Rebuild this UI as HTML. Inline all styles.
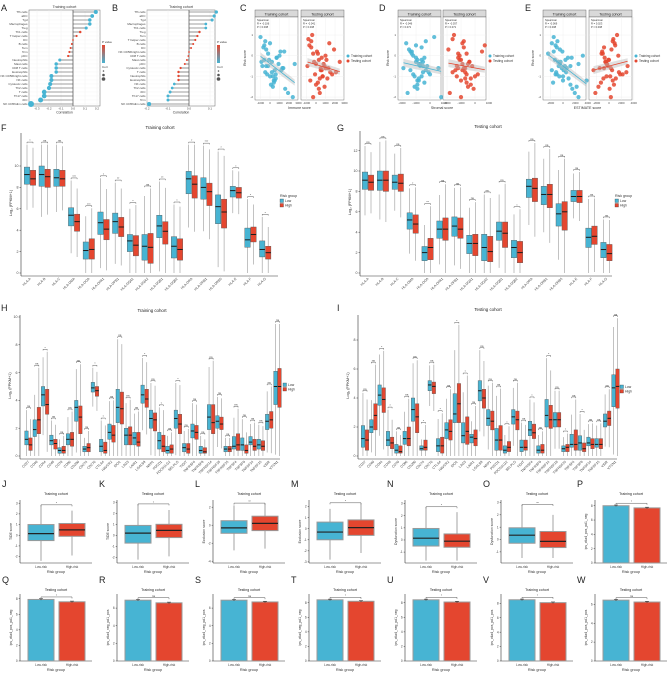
<!DOCTYPE html>
<html><head><meta charset="utf-8"><style>
html,body{margin:0;padding:0;background:#fff;}
svg{display:block;font-family:"Liberation Sans",sans-serif;}
</style></head><body>
<svg id="fig" width="669" height="674" viewBox="0 0 669 674" xmlns="http://www.w3.org/2000/svg"></svg>
<script>
// ---------- DATA ----------
const aLabels=["Tfh cells","aDC","Tgd","Macrophages","Treg","Th1 cells","T helper cells","DC","B cells","Tem","Tcm","pDC","Neutrophils","Mast cells","CD8 T cells","Eosinophils","NK CD56bright cells","NK cells","Cytotoxic cells","Th2 cells","T cells","Th17 cells","iDC","NK CD56dim cells"];
const aValues=[0.19,0.16,0.14,0.14,0.11,0.06,0.03,0.0,-0.01,-0.02,-0.03,-0.04,-0.11,-0.14,-0.14,-0.14,-0.18,-0.18,-0.19,-0.20,-0.24,-0.24,-0.27,-0.35];
const aTicks=[-0.3,-0.2,-0.1,0.0,0.1,0.2];
const bLabels=["Tfh cells","aDC","Tgd","Macrophages","Th1 cells","Treg","Tem","T helper cells","B cells","DC","NK CD56bright cells","CD8 T cells","Mast cells","pDC","Cytotoxic cells","T cells","Neutrophils","Eosinophils","NK cells","Th2 cells","iDC","Th17 cells","Tcm","NK CD56dim cells"];
const bValues=[0.13,0.12,0.11,0.08,0.08,0.05,0.04,0.03,0.02,0.01,0.0,-0.003,-0.01,-0.02,-0.04,-0.05,-0.05,-0.05,-0.07,-0.08,-0.09,-0.10,-0.10,-0.19];
const bTicks=[-0.2,-0.1,0.0,0.1];

const riskTrain=[-0.3,-0.8,0.2,-1.2,-0.5,0.6,-1.6,-0.1,-0.9,0.9,-0.4,-1.0,-0.2,0.3,-0.7,-1.4,-0.6,0.1,-1.1,-0.3,0.5,-0.8,-1.8,-0.5,0.0,-1.3,-0.2,-0.6,0.4,-0.9,-1.5,-0.4,0.7,-0.7,-1.0,-0.1,-2.0,-0.5,0.2,-1.2];
const riskTest=[-0.6,0.1,-1.1,-0.4,0.8,-1.5,-0.2,-0.9,0.4,-0.7,-1.3,0.0,-0.5,-1.8,0.6,-0.3,-1.0,-0.8,0.2,-1.2,-0.4,1.0,-0.6,-1.6,-0.1,-0.9,0.3,-0.7,-1.4,-0.2,0.5,-1.1,-0.5,-0.3,-2.0,0.1,-0.8,-1.0,0.7,-0.6];
const immuneTrain=[0.2,-0.5,1.1,0.4,-0.8,0.0,1.6,0.7,-0.3,-1.0,0.9,0.3,-0.6,-0.4,0.5,0.1,1.3,-0.2,0.6,-0.9,-0.6,0.2,1.9,-0.4,1.0,0.4,-0.1,1.4,-0.7,0.6,0.3,2.6,-0.5,1.2,0.0,0.7,2.4,-0.2,1.5,0.5];
const immuneTest=[0.5,-0.3,1.2,0.0,-0.8,0.9,0.3,1.7,-0.5,0.6,0.2,1.0,-0.9,0.4,1.4,-0.2,0.7,2.1,0.1,-0.6,0.8,-0.4,1.3,0.3,0.6,-0.1,1.9,0.5,0.0,1.1,-0.7,0.4,0.9,2.5,-0.3,0.2,1.5,0.7,-0.5,1.0];
const stromalTrain=[-1.0,-0.5,-1.4,-0.8,-0.2,-1.7,-0.9,-0.4,-1.2,0.3,-0.7,-1.1,-0.6,-1.5,-0.3,-0.9,0.6,-1.3,-0.8,-0.5,-1.0,-0.1,-1.6,-0.7,-1.2,-0.4,-0.9,-1.9,-0.6,0.0,-1.1,-0.8,-0.3,-1.4,-0.6,-1.0,0.8,-0.5,-1.3,-0.9];
const stromalTest=[-0.7,-1.2,-0.3,-0.9,-1.6,-0.5,-1.0,0.2,-0.8,-1.4,-0.6,-1.1,-0.2,-1.8,-0.9,-0.4,-1.3,-0.7,0.5,-1.0,-0.5,-1.5,-0.8,-0.1,-1.2,-0.6,-1.9,-0.9,-0.3,-1.1,0.7,-0.7,-1.3,-0.4,-1.0,-0.6,-1.6,0.0,-0.8,-1.2];
const estimateTrain=[-0.8,0.5,-1.5,0.0,1.2,-1.8,1.5,0.8,-1.0,-1.5,2.5,-0.6,-1.3,-0.5,0.1,1.2,0.6,-2.4,0.9,-0.4,-1.2,-1.1,1.9,-0.7,3.2,-1.6,0.4,-0.2,-1.0,-1.2,2.2,-0.5,-0.9,-1.8,0.0,1.4,2.5,0.3,-0.1,3.8];
const estimateTest=[0.3,-1.0,1.1,-0.4,0.7,-1.7,0.0,2.2,-0.8,0.5,-1.3,1.5,-0.2,-2.2,0.9,-0.6,0.2,2.8,-1.1,0.6,-0.3,1.3,-1.5,0.1,-0.7,1.8,0.4,-2.5,0.8,-0.1,1.0,-0.9,3.0,-0.5,0.3,-1.2,1.6,-0.4,0.6,-0.8];

const hlaGenes=["HLA-A","HLA-B","HLA-C","HLA-DMA","HLA-DOA","HLA-DPA1","HLA-DPB1","HLA-DQA1","HLA-DQA2","HLA-DQB1","HLA-DQB2","HLA-DRA","HLA-DRB1","HLA-DRB5","HLA-E","HLA-F","HLA-G"];
const fLow=[[8.3,9.2,9.9],[8.1,9.2,10.0],[8.1,8.9,9.7],[4.4,5.4,6.1],[1.3,2.1,2.9],[3.6,4.7,5.7],[3.7,4.8,5.6],[2.0,3.0,3.6],[1.2,2.5,3.6],[3.3,4.4,5.4],[1.4,2.5,3.4],[7.4,8.8,9.5],[6.9,8.0,8.9],[4.6,6.2,7.3],[7.1,7.7,8.1],[2.4,3.1,4.2],[1.5,2.2,3.0]];
const fHigh=[[8.2,8.8,9.6],[8.0,9.0,9.7],[8.1,8.8,9.6],[3.9,4.8,5.5],[1.3,2.2,3.2],[3.1,4.1,5.0],[3.4,4.3,5.2],[1.6,2.6,3.5],[0.9,2.4,3.7],[2.7,3.9,4.8],[1.2,2.2,3.2],[7.0,8.3,9.1],[6.3,7.6,8.4],[4.2,5.7,6.9],[7.0,7.5,8.0],[2.9,3.6,4.3],[1.3,1.9,2.5]];
const fSig=["*","ns","ns","***","***","*","**","*","ns","**","*","*","***","*","*","*","*"];
const gLow=[[8.2,9.1,9.9],[8.1,9.1,10.0],[8.2,8.9,9.6],[4.3,5.2,5.9],[1.2,2.0,2.6],[3.4,4.3,5.1],[3.6,4.6,5.5],[1.9,2.9,3.7],[1.2,2.5,3.8],[3.2,4.1,5.0],[1.5,2.5,3.2],[7.4,8.5,9.2],[6.7,7.7,8.5],[4.6,5.8,6.8],[7.0,7.5,8.1],[2.5,3.5,4.4],[1.5,2.3,3.0]];
const gHigh=[[8.1,8.9,9.6],[8.0,9.1,10.0],[8.0,8.8,9.7],[3.9,4.8,5.7],[1.3,2.5,3.4],[3.2,4.3,5.4],[3.4,4.3,5.4],[1.7,2.9,3.8],[1.1,2.1,3.6],[2.5,3.9,5.0],[1.0,2.0,3.1],[7.0,8.3,9.3],[6.4,7.7,8.7],[4.2,6.0,7.0],[6.9,7.5,8.1],[2.8,3.6,4.6],[1.2,1.9,2.8]];
const gSig=["ns","ns","ns","*","**","ns","ns","ns","ns","ns","*","ns","ns","ns","ns","ns","ns"];

const icGenes=["CD27","CD40","CD44","CD48","CD70","CD86","CD200","CD274","CD276","CTLA4","HAVCR2","IDO1","LAG3","LAIR1","LGALS9","NRP1","PDCD1","PDCD1LG2","SELPLG","TIGIT","TNFRSF4","TNFRSF9","TNFRSF14","TNFRSF18","TNFRSF25","TNFSF4","TNFSF9","TNFSF14","TNFSF15","VSIR","VTCN1"];
const hLow=[[0.8,1.2,1.8],[1.4,1.9,2.6],[3.6,4.4,5.0],[0.8,1.1,1.5],[0.2,0.4,0.6],[0.8,1.2,1.6],[2.5,3.5,4.0],[0.3,0.5,0.7],[4.6,4.9,5.3],[0.3,0.7,1.2],[1.2,1.7,2.3],[2.4,3.5,4.8],[0.8,1.5,2.0],[0.8,1.3,1.7],[3.8,4.4,5.1],[2.0,2.7,3.3],[0.5,1.1,1.7],[0.2,0.4,0.7],[2.0,2.7,3.3],[0.3,0.6,0.9],[1.3,1.8,2.3],[0.2,0.4,0.7],[1.9,2.8,3.7],[2.0,2.5,2.9],[0.3,0.5,0.7],[0.5,0.7,1.4],[0.4,0.8,1.3],[0.8,1.0,1.4],[0.5,0.8,1.2],[1.9,2.5,3.0],[3.7,5.0,6.1]];
const hHigh=[[0.4,0.8,1.3],[1.6,2.6,3.5],[3.0,3.7,4.8],[0.5,0.9,1.2],[0.2,0.4,0.7],[0.7,1.2,1.7],[1.6,2.8,3.6],[0.3,0.6,0.9],[4.3,4.7,5.0],[0.2,0.4,1.0],[1.0,1.5,2.2],[2.3,3.4,4.6],[0.8,1.5,2.1],[0.7,1.0,1.7],[3.5,4.1,4.8],[1.8,2.6,3.1],[0.3,0.7,1.5],[0.2,0.5,0.8],[1.6,2.3,3.0],[0.2,0.5,0.9],[1.2,1.7,2.2],[0.2,0.3,0.6],[1.6,2.4,3.7],[1.9,2.3,2.8],[0.3,0.5,0.7],[0.4,0.8,1.6],[0.2,0.4,0.8],[0.4,0.7,1.2],[0.4,0.7,1.1],[2.0,2.6,3.2],[3.5,5.0,6.3]];
const hSig=["ns","ns","*","ns","ns","ns","ns","ns","*","*","ns","ns","ns","ns","*","ns","*","ns","*","ns","ns","ns","ns","ns","ns","ns","ns","ns","ns","ns","ns"];
const iLow=[[0.6,1.2,2.1],[1.6,2.0,2.5],[3.5,4.2,4.9],[0.7,1.1,1.7],[0.2,0.4,0.8],[0.8,1.2,1.7],[2.4,3.2,4.0],[0.4,0.5,0.7],[4.5,4.9,5.2],[0.3,0.7,1.2],[1.2,1.8,2.3],[2.3,2.9,4.3],[0.9,1.4,2.3],[0.9,1.3,1.5],[3.8,4.5,5.2],[2.1,2.6,3.2],[0.4,1.1,1.9],[0.2,0.4,0.7],[2.2,2.7,3.2],[0.3,0.6,1.1],[1.4,1.8,2.4],[0.2,0.4,0.7],[2.0,2.8,3.9],[2.0,2.5,3.0],[0.3,0.5,0.7],[0.6,0.8,1.5],[0.4,0.9,1.4],[0.7,0.9,1.3],[0.6,0.8,1.2],[2.0,2.4,2.9],[3.4,4.7,5.6]];
const iHigh=[[0.4,1.1,1.8],[1.8,2.8,3.6],[3.0,3.9,4.7],[0.5,0.9,1.3],[0.2,0.3,0.7],[0.7,1.2,2.0],[1.6,2.7,3.6],[0.4,0.6,1.1],[4.3,4.8,5.1],[0.2,0.7,1.3],[1.1,1.7,2.5],[2.3,3.6,5.0],[0.8,1.7,2.7],[0.7,1.2,1.8],[3.3,4.0,4.6],[1.8,2.4,3.1],[0.4,1.1,2.1],[0.3,0.6,1.0],[1.8,2.5,3.1],[0.4,0.6,1.1],[1.2,1.6,2.2],[0.2,0.4,0.8],[1.9,2.5,3.5],[2.0,2.5,3.0],[0.3,0.6,0.8],[0.4,0.8,1.8],[0.3,0.5,0.9],[0.5,0.8,1.2],[0.5,0.8,1.2],[2.1,2.6,3.1],[3.3,4.8,6.0]];
const iSig=["ns","ns","*","*","ns","ns","ns","*","ns","*","ns","*","*","ns","ns","ns","ns","*","ns","ns","*","ns","*","ns","*","ns","*","ns","ns","ns","ns"];

// small panels: [min, q1, median, q3, max] for low / high risk
const jLow=[-2.4,-0.5,0.15,1.0,2.8], jHigh=[-1.9,-0.1,0.5,1.1,2.3];
const kLow=[-2.2,-0.7,0.2,0.9,2.8], kHigh=[-1.9,-0.2,0.45,1.0,2.3];
const lLow=[-2.8,-0.9,-0.3,0.5,2.2], lHigh=[-2.6,-0.6,0.2,1.0,2.4];
const mLow=[-2.8,-1.0,-0.3,0.6,1.8], mHigh=[-2.2,-0.6,0.1,0.8,2.3];
const nLow=[-1.7,-0.5,0.15,0.95,2.7], nHigh=[-1.7,-0.6,-0.1,0.5,2.3];
const oLow=[-1.5,-0.3,0.35,0.95,2.8], oHigh=[-1.5,-0.65,-0.15,0.65,2.0];
const barValues=[[8.0,7.7],[7.9,7.6],[6.9,6.6],[6.9,6.7],[8.4,8.2],[8.4,8.1],[8.5,8.1],[6.45,6.25]];
const barSig=["*","*","ns","ns","*","*","*","ns"];

// ---------- HELPERS ----------
const NS="http://www.w3.org/2000/svg";
const svg=document.getElementById('fig');
const CY="#47b4d3", RD="#e4462f";
function mk(tag,attrs,parent){const e=document.createElementNS(NS,tag);for(const k in attrs)e.setAttribute(k,attrs[k]);(parent||svg).appendChild(e);return e;}
function nm(e,name){
  
  
  return e;}
function txt(x,y,s,size,anchor,rot,fill,name,weight){const t=mk('text',{x:x,y:y,'font-size':size,'text-anchor':anchor||'start',fill:fill||'#333'});if(weight)t.setAttribute('font-weight',weight);if(rot)t.setAttribute('transform','rotate('+rot+' '+x+' '+y+')');t.textContent=s;nm(t,name||'label');return t;}
function line(x1,y1,x2,y2,st,w,name){const l=mk('line',{x1:x1,y1:y1,x2:x2,y2:y2,stroke:st||'#333','stroke-width':w||0.5});nm(l,name||'axis-line');return l;}
function panelLetter(x,y,s){txt(x,y,s,9,'start',0,'#222','panel-letter-'+s.toLowerCase());}

// ---------- A / B lollipops ----------
function lollipop(labels,vals,ticks,fx0,fx1,fy0,fy1,zeroX,per01,letter,lx){
  panelLetter(lx,11,letter);
  txt((fx0+fx1)/2,8,'Training cohort',3.6,'middle',0,'#333','panel-title');
  const fr=mk('rect',{x:fx0,y:fy0,width:fx1-fx0,height:fy1-fy0,fill:'#fff',stroke:'#666','stroke-width':0.5});nm(fr,'plot-frame');
  const xs=v=>zeroX+v*per01*10;
  const step=(fy1-fy0)/labels.length;
  ticks.forEach(t=>{line(xs(t),fy0,xs(t),fy1,'#ececec',0.4,'grid-line');txt(xs(t),fy1+3.5,t.toFixed(1),3,'middle',0,'#444','x-tick-label');});
  labels.forEach((l,i)=>{const y=fy0+step*(i+0.5);line(fx0,y,fx1,y,'#f0f0f0',0.3,'grid-line');});
  line(zeroX,fy0,zeroX,fy1,'#333',0.6,'zero-line');
  labels.forEach((l,i)=>{
    const y=fy0+step*(i+0.5),v=vals[i];
    line(zeroX,y,xs(v),y,'#444',0.6,'lollipop-stem');
    const sig=Math.abs(v)>=0.07;
    const c=mk('circle',{cx:xs(v),cy:y,r:0.9+Math.abs(v)*6,fill:sig?CY:RD});nm(c,'lollipop-dot');
    txt(fx0-1.5,y+1.1,l,3,'end',0,'#444','y-tick-label');
  });
  txt((fx0+fx1)/2,fy1+7.5,'Correlation',3.4,'middle',0,'#333','x-axis-title');
  const gx=fx1+2;
  txt(gx,43,'P value',3,'start',0,'#333','legend-title');
  const gr=mk('rect',{x:gx,y:45,width:3,height:18,fill:'url(#pg)'});nm(gr,'legend-colorbar');
  txt(gx,68,'Corr',3,'start',0,'#333','legend-title');
  [0,1,2].forEach(k=>{const c=mk('circle',{cx:gx+1.5,cy:71+k*4,r:0.8+k*0.5,fill:'#555'});nm(c,'legend-size-dot');});
}
const defs=mk('defs',{});
const lg=mk('linearGradient',{id:'pg',x1:0,y1:0,x2:0,y2:1},defs);
mk('stop',{offset:'0',  'stop-color':RD},lg);mk('stop',{offset:'1','stop-color':CY},lg);
lollipop(aLabels,aValues,aTicks,29,100,10,106,73,12,'A',1);
lollipop(bLabels,bValues,bTicks,147,215,10,106,189,21,'B',112);

// ---------- C / D / E scatter ----------
function scatter(letter,lx,L1,L2,zeroOff,perK,ticksK,xTitle,xTr,xTe){
  panelLetter(lx,11,letter);
  const fw=43,top=17,bot=100;
  const ys=v=>55.7-v*20.7;
  [[L1,'Training cohort',xTr,riskTrain,CY],[L2,'Testing cohort',xTe,riskTest,RD]].forEach(([L,title,xv,yv,col])=>{
    const st=mk('rect',{x:L,y:10,width:fw,height:7,fill:'#d9d9d9',stroke:'#555','stroke-width':0.4});nm(st,'facet-strip');
    txt(L+fw/2,15.3,title,3.6,'middle',0,'#222','facet-title');
    const pr=mk('rect',{x:L,y:top,width:fw,height:bot-top,fill:'#fff',stroke:'#555','stroke-width':0.4});nm(pr,'facet-panel');
    const xs=v=>L+zeroOff+v*perK;
    ticksK.forEach(t=>{line(xs(t),top,xs(t),bot,'#ececec',0.4,'grid-line');txt(xs(t),bot+4,String(t*1000),2.8,'middle',0,'#444','x-tick-label');});
    [1,0,-1,-2].forEach(t=>line(L,ys(t),L+fw,ys(t),'#ececec',0.4,'grid-line'));
    xv.forEach((x,i)=>{const c=mk('circle',{cx:xs(x),cy:ys(yv[i]),r:2.1,fill:col,'fill-opacity':0.85});nm(c,'scatter-point');});
    const n=xv.length,mx=xv.reduce((a,b)=>a+b)/n,my=yv.reduce((a,b)=>a+b)/n;
    let sxy=0,sxx=0;xv.forEach((x,i)=>{sxy+=(x-mx)*(yv[i]-my);sxx+=(x-mx)*(x-mx);});
    const b=sxy/sxx,a=my-b*mx,x0=Math.min(...xv),x1=Math.max(...xv);
    const band=mk('polygon',{points:[[xs(x0),ys(a+b*x0)-4],[xs(x1),ys(a+b*x1)-3],[xs(x1),ys(a+b*x1)+3],[xs(x0),ys(a+b*x0)+4]].map(p=>p.join(',')).join(' '),fill:'#bbb','fill-opacity':0.45});nm(band,'confidence-band');
    line(xs(x0),ys(a+b*x0),xs(x1),ys(a+b*x1),col,0.8,'regression-line');
    txt(L+2,21,'Spearman',2.6,'start',0,'#333','stat-label');
    txt(L+2,24.5,'R = '+(b*0.3).toFixed(3),2.6,'start',0,'#333','stat-label');
    txt(L+2,28,'P = 0.0'+(letter==='D'?'71':'08'),2.6,'start',0,'#333','stat-label');
  });
  [1,0,-1,-2].forEach(t=>txt(L1-2,ys(t)+1,String(t),3,'end',0,'#444','y-tick-label'));
  txt(L1-9,58,'Risk score',3.4,'middle',-90,'#333','y-axis-title');
  txt((L1+L2+fw)/2,109,xTitle,3.6,'middle',0,'#333','x-axis-title');
  const lgx=L2+fw+4;
  const c1=mk('circle',{cx:lgx,cy:56,r:1.5,fill:CY});nm(c1,'legend-key-training');
  txt(lgx+3,57.2,'Training cohort',3.2,'start',0,'#333','legend-label');
  const c2=mk('circle',{cx:lgx,cy:61,r:1.5,fill:RD});nm(c2,'legend-key-testing');
  txt(lgx+3,62.2,'Testing cohort',3.2,'start',0,'#333','legend-label');
}
scatter('C',240,255,301,15,9.5,[-1,0,1,2,3],'Immune score',immuneTrain,immuneTest);
scatter('D',379,398,443,32,14,[-2,-1,0,1],'Stromal score',stromalTrain,stromalTest);
scatter('E',525,543,589,20,6.2,[-2,0,2,4],'ESTIMATE score',estimateTrain,estimateTest);

// ---------- grouped boxplots F G H I ----------
function grouped(cfg,genes,low,high,sig){
  panelLetter(cfg.lx,cfg.ly,cfg.letter);
  txt(cfg.titleX,cfg.titleY,cfg.title,4.4,'middle',0,'#222','panel-title');
  const ys=v=>cfg.y0-v*cfg.unit;
  line(cfg.left,cfg.top,cfg.left,cfg.y0+3,'#333',0.6,'y-axis');
  line(cfg.left,cfg.y0+3,cfg.right,cfg.y0+3,'#333',0.6,'x-axis');
  cfg.ticks.forEach(t=>{line(cfg.left-1.5,ys(t),cfg.left,ys(t),'#333',0.5,'y-tick');txt(cfg.left-2.5,ys(t)+1.2,String(t),3.6,'end',0,'#444','y-tick-label');});
  txt(cfg.left-9,(cfg.top+cfg.y0)/2,'Log\u2082 (FPKM+1)',3.8,'middle',-90,'#333','y-axis-title');
  genes.forEach((g,i)=>{
    const c=cfg.c0+i*cfg.step;let topW=0;
    [[low[i],c-cfg.bw/2-0.3,CY,'box-low'],[high[i],c+cfg.bw/2+0.3,RD,'box-high']].forEach(([s,cx,col,name])=>{
      const iqr=s[2]-s[0],wl=Math.max(0,s[0]-1.5*iqr),wh=Math.min(cfg.maxV,s[2]+1.5*iqr);
      topW=Math.max(topW,wh);
      line(cx,ys(wh),cx,ys(wl),'#999',0.6,'whisker');
      const r=mk('rect',{x:cx-cfg.bw/2,y:ys(s[2]),width:cfg.bw,height:ys(s[0])-ys(s[2]),fill:col,stroke:'#555','stroke-width':0.4});nm(r,name);
      line(cx-cfg.bw/2,ys(s[1]),cx+cfg.bw/2,ys(s[1]),'#1a1a1a',1,'median-line');
    });
    const by=ys(topW)-2.5,x1=c-cfg.bw/2-0.3,x2=c+cfg.bw/2+0.3;
    const p=mk('path',{d:`M${x1},${by+1.2}L${x1},${by}L${x2},${by}L${x2},${by+1.2}`,fill:'none',stroke:'#333','stroke-width':0.4});nm(p,'significance-bracket');
    txt(c,by-0.5,sig[i],3,'middle',0,'#333','significance-label');
    txt(c+1,cfg.y0+6,g,3.4,'end',-45,'#444','x-tick-label');
  });
  if(cfg.legendTitle)txt(cfg.lgx,cfg.lgy,'Risk group',3.6,'start',0,'#333','legend-title');
  const k1=mk('rect',{x:cfg.lgx,y:cfg.lgy+2,width:3.5,height:3.5,fill:CY,stroke:'#333','stroke-width':0.3});nm(k1,'legend-key-low');
  txt(cfg.lgx+5,cfg.lgy+5.2,'Low',3.4,'start',0,'#333','legend-label');
  const k2=mk('rect',{x:cfg.lgx,y:cfg.lgy+6.5,width:3.5,height:3.5,fill:RD,stroke:'#333','stroke-width':0.3});nm(k2,'legend-key-high');
  txt(cfg.lgx+5,cfg.lgy+9.7,'High',3.4,'start',0,'#333','legend-label');
}
grouped({letter:'F',lx:1,ly:131,title:'Training cohort',titleX:160,titleY:129,left:21,right:278,top:133,y0:273,unit:10.7,c0:30,step:14.7,bw:5.4,maxV:12,ticks:[0,2,4,6,8,10],lgx:280,lgy:197,legendTitle:true},hlaGenes,fLow,fHigh,fSig);
grouped({letter:'G',lx:337,ly:131,title:'Testing cohort',titleX:488,titleY:128,left:360,right:612,top:131,y0:273,unit:10.2,c0:368,step:14.9,bw:5.4,maxV:13,ticks:[0,2,4,6,8,10,12],lgx:615,lgy:197,legendTitle:true},hlaGenes,gLow,gHigh,gSig);
grouped({letter:'H',lx:1,ly:311,title:'Training cohort',titleX:152,titleY:312,left:20,right:280,top:315,y0:456,unit:13.9,c0:28.5,step:8.3,bw:3.5,maxV:9.5,ticks:[0,2,4,6,8,10],lgx:283,lgy:381,legendTitle:false},icGenes,hLow,hHigh,hSig);
grouped({letter:'I',lx:337,ly:311,title:'Testing cohort',titleX:488,titleY:311,left:358,right:617,top:315,y0:456,unit:14.5,c0:365,step:8.35,bw:3.5,maxV:9.5,ticks:[0,2,4,6,8],lgx:620,lgy:383,legendTitle:false},icGenes,iLow,iHigh,iSig);

// ---------- J-W ----------
const rowCfg=[{top:500,bot:563,lab:487},{top:594,bot:661,lab:583}];
const starts=[2,99,195,291,387,483,577];
function smallAxes(px,row,letter,title,yTitle,ymin,ymax,ticks){
  const R=rowCfg[row];panelLetter(px,R.lab,letter);
  const ax=px+18,w=72;
  const ys=v=>R.bot-(v-ymin)/(ymax-ymin)*(R.bot-R.top);
  txt(ax+w/2,R.lab+8,title,3.6,'middle',0,'#222','panel-title');
  line(ax,R.top,ax,R.bot,'#333',0.6,'y-axis');line(ax,R.bot,ax+w,R.bot,'#333',0.6,'x-axis');
  ticks.forEach(t=>{line(ax-1.3,ys(t),ax,ys(t),'#333',0.5,'y-tick');txt(ax-2.3,ys(t)+1.1,String(t),3.2,'end',0,'#444','y-tick-label');});
  txt(ax-8,(R.top+R.bot)/2,yTitle,3.4,'middle',-90,'#333','y-axis-title');
  const c1=ax+21,c2=ax+52;
  txt(c1,R.bot+5,'Low-risk',3.2,'middle',0,'#444','x-tick-label');
  txt(c2,R.bot+5,'High-risk',3.2,'middle',0,'#444','x-tick-label');
  txt(ax+w/2,R.bot+10,'Risk group',3.8,'middle',0,'#333','x-axis-title');
  return {ys,c1,c2,R};
}
function bracket(c1,c2,y,s){const p=mk('path',{d:`M${c1},${y+1.5}L${c1},${y}L${c2},${y}L${c2},${y+1.5}`,fill:'none',stroke:'#444','stroke-width':0.45});nm(p,'significance-bracket');txt((c1+c2)/2,y-0.6,s,3,'middle',0,'#333','significance-label');}
function boxPanel(i,row,letter,title,yTitle,ymin,ymax,ticks,lo,hi,s){
  const a=smallAxes(starts[i],row,letter,title,yTitle,ymin,ymax,ticks);
  [[lo,a.c1,CY,'box-low-risk'],[hi,a.c2,RD,'box-high-risk']].forEach(([d,c,col,name])=>{
    line(c,a.ys(d[4]),c,a.ys(d[0]),'#666',0.6,'whisker');
    const r=mk('rect',{x:c-13,y:a.ys(d[3]),width:26,height:a.ys(d[1])-a.ys(d[3]),fill:col,stroke:'#999','stroke-width':1});nm(r,name);
    line(c-13,a.ys(d[2]),c+13,a.ys(d[2]),'#222',1.2,'median-line');
  });
  bracket(a.c1,a.c2,a.ys(Math.max(lo[4],hi[4]))-0.5,s);
}
function barPanel(i,row,letter,title,yTitle,ymax,ticks,vals,s){
  const a=smallAxes(starts[i],row,letter,title,yTitle,0,ymax,ticks);
  [[vals[0],a.c1,CY,'bar-low-risk'],[vals[1],a.c2,RD,'bar-high-risk']].forEach(([v,c,col,name])=>{
    const r=mk('rect',{x:c-13,y:a.ys(v),width:26,height:a.R.bot-a.ys(v),fill:col,stroke:'#9a9a9a','stroke-width':1});nm(r,name);
    line(c,a.ys(v)-0.7,c,a.ys(v)+0.7,'#222',0.6,'error-bar');
    line(c-2,a.ys(v)-0.7,c+2,a.ys(v)-0.7,'#222',0.5,'error-bar-cap');
  });
  bracket(a.c1,a.c2,a.ys(Math.max(vals[0],vals[1]))-2.5,s);
}
boxPanel(0,0,'J','Training cohort','TIDE score',-2.6,3.3,[-2,-1,0,1,2,3],jLow,jHigh,'*');
boxPanel(1,0,'K','Testing cohort','TIDE score',-2.5,3.2,[-2,-1,0,1,2,3],kLow,kHigh,'*');
boxPanel(2,0,'L','Training cohort','Exclusion score',-4.2,2.8,[-4,-2,0,2],lLow,lHigh,'**');
boxPanel(3,0,'M','Testing cohort','Exclusion score',-3.1,2.6,[-3,-2,-1,0,1,2],mLow,mHigh,'*');
boxPanel(4,0,'N','Training cohort','Dysfunction score',-1.9,3.3,[-1,0,1,2,3],nLow,nHigh,'*');
boxPanel(5,0,'O','Testing cohort','Dysfunction score',-1.9,3.2,[-1,0,1,2,3],oLow,oHigh,'**');
const barNames=[['P','Training cohort','ips_ctla4_pos_pd1_neg',0,8.8,[0,2,4,6,8]],['Q','Testing cohort','ips_ctla4_pos_pd1_neg',0,8.6,[0,2,4,6,8]],['R','Training cohort','ips_ctla4_neg_pd1_pos',1,7.6,[0,2,4,6]],['S','Testing cohort','ips_ctla4_neg_pd1_pos',2,7.6,[0,2,4,6]],['T','Training cohort','ips_ctla4_neg_pd1_neg',3,9.2,[0,2,4,6,8]],['U','Testing cohort','ips_ctla4_neg_pd1_neg',4,9.2,[0,2,4,6,8]],['V','Training cohort','ips_ctla4_pos_pd1_pos',5,9.3,[0,2,4,6,8]],['W','Testing cohort','ips_ctla4_pos_pd1_pos',6,7.1,[0,2,4,6]]];
barNames.forEach((b,k)=>{const row=k===0?0:1;const idx=k===0?6:b[3];barPanel(idx,row,b[0],b[1],b[2],b[4],b[5],barValues[k],barSig[k]);});
</script>
</body></html>
